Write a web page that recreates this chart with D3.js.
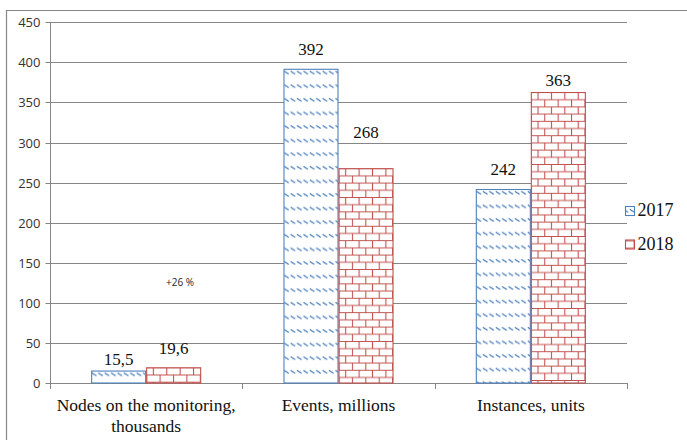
<!DOCTYPE html>
<html>
<head>
<meta charset="utf-8">
<script src="https://cdn.jsdelivr.net/npm/d3@7"></script>
<style>
  html, body { margin: 0; padding: 0; background: #fff; }
  svg { display: block; }
</style>
</head>
<body>
<script>
// Monitoring statistics, 2017 vs 2018
const categories = [["Nodes on the monitoring,", "thousands"], ["Events, millions"], ["Instances, units"]];
const seriesNames = ["2017", "2018"];
const values2017 = [15.5, 392, 242];
const values2018 = [19.6, 268, 363];
const yTicks = [0, 50, 100, 150, 200, 250, 300, 350, 400, 450];
const growthNote = "+26 %";

// extra lift (px) of each value label above its bar, per series
const labelLift = [[6, 13.5, 14], [13, 30, 6]];

const W = 687, H = 440;
const svg = d3.select("body").append("svg").attr("width", W).attr("height", H);

const blue = "#4F81BD", red = "#C0504D", grid = "#868686";
const serif = "'Liberation Serif', 'Times New Roman', serif";
const sans = "'Open Sans', 'Noto Sans', sans-serif";

const defs = svg.append("defs");

// dashed-diagonal fill (2017) and brick fill (2018); anchored at (ox, oy)
function makePattern(id, kind, ox, oy) {
  if (kind === 0) {
    const pw = 6.4, ph = 13.6;
    const p = defs.append("pattern").attr("id", id)
      .attr("patternUnits", "userSpaceOnUse").attr("width", pw).attr("height", ph)
      .attr("patternTransform", `translate(${ox},${oy})`);
    p.append("rect").attr("width", pw).attr("height", ph).attr("fill", "#fff");
    p.append("path").attr("d", "M0.8,2.2 L2.8,3.9 M3.0,3.6 L5.2,5.4")
      .attr("stroke", blue).attr("stroke-width", 1.3).attr("fill", "none");
  } else {
    const bw = 13.4, bh = 7.2;
    const p = defs.append("pattern").attr("id", id)
      .attr("patternUnits", "userSpaceOnUse").attr("width", bw).attr("height", bh * 2)
      .attr("patternTransform", `translate(${ox},${oy})`);
    p.append("rect").attr("width", bw).attr("height", bh * 2).attr("fill", "#fff");
    p.append("path")
      .attr("d", `M0,0.5 H${bw} M0,${bh + 0.5} H${bw} M${bw / 2 + 0.5},0 V${bh} M0.5,${bh} V${bh * 2}`)
      .attr("stroke", red).attr("stroke-width", 1.1).attr("fill", "none");
  }
}

// outer frame
svg.append("path").attr("d", `M6.5,${H} V10.5 H${W}`)
  .attr("stroke", grid).attr("stroke-width", 1.2).attr("fill", "none");

const x0 = d3.scaleBand().domain(d3.range(categories.length)).range([50, 627]).padding(0);
const x1 = d3.scaleBand().domain(seriesNames).range([0, x0.bandwidth()])
  .paddingInner(0).paddingOuter(0.748);
const y = d3.scaleLinear().domain([0, 450]).range([383, 22.3]);

// gridlines
svg.append("g").selectAll("line").data(yTicks).join("line")
  .attr("x1", 50).attr("x2", 627)
  .attr("y1", d => Math.round(y(d)) + 0.5).attr("y2", d => Math.round(y(d)) + 0.5)
  .attr("stroke", grid).attr("stroke-width", 1);

// y axis
const yAxis = svg.append("g").attr("transform", "translate(50.5,0)")
  .call(d3.axisLeft(y).tickValues(yTicks).tickSize(5).tickPadding(5).tickFormat(d3.format("d")));
yAxis.select(".domain").attr("stroke", grid).attr("d", `M0,${y(450)} V${y(0) + 0.5}`);
yAxis.selectAll(".tick line").attr("stroke", grid);
yAxis.selectAll(".tick text").attr("font-family", sans).attr("font-size", 13).attr("fill", "#333");
yAxis.selectAll(".tick").attr("transform", d => `translate(0,${Math.round(y(d)) + 0.5})`);

// category axis ticks
const catEdges = d3.range(categories.length + 1).map(i => 50 + i * x0.step());
svg.append("g").selectAll("line").data(catEdges).join("line")
  .attr("x1", d => Math.round(d) + 0.5).attr("x2", d => Math.round(d) + 0.5)
  .attr("y1", Math.round(y(0))).attr("y2", Math.round(y(0)) + 6)
  .attr("stroke", grid);

// bars
const series = [values2017, values2018];
const fmt = v => d3.format("~f")(v).replace(".", ",");
series.forEach((vals, s) => {
  const name = seriesNames[s];
  const g = svg.append("g");
  g.selectAll("rect").data(vals).join("rect")
    .each(function (d, i) {
      const bx = x0(i) + x1(name), by = y(d);
      makePattern(`pat${name}-${i}`, s, bx, by);
      d3.select(this)
        .attr("x", bx + 0.5).attr("y", by + 0.5)
        .attr("width", x1.bandwidth() - 1)
        .attr("height", y(0) - by - 0.5)
        .attr("fill", `url(#pat${name}-${i})`);
    })
    .attr("stroke", s === 0 ? blue : red)
    .attr("stroke-width", 1.1);
  g.selectAll("text").data(vals).join("text")
    .attr("x", (d, i) => x0(i) + x1(name) + x1.bandwidth() / 2)
    .attr("y", (d, i) => y(d) - labelLift[s][i])
    .attr("text-anchor", "middle")
    .attr("font-family", serif).attr("font-size", 17).attr("fill", "#111")
    .text(d => fmt(d));
});

// category labels
const catG = svg.append("g");
categories.forEach((lines, i) => {
  const cx = x0(i) + x0.bandwidth() / 2;
  const t = catG.append("text")
    .attr("x", cx).attr("y", 411)
    .attr("text-anchor", "middle")
    .attr("font-family", serif).attr("font-size", 17.5).attr("fill", "#111");
  lines.forEach((ln, k) => {
    t.append("tspan").attr("x", cx).attr("dy", k === 0 ? 0 : 21).text(ln);
  });
});

// growth annotation
svg.append("text").attr("x", 180).attr("y", 285.5).attr("text-anchor", "middle")
  .attr("font-family", sans).attr("font-size", 10).attr("fill", "#262626")
  .text(growthNote);

// legend
const leg = svg.append("g").selectAll("g").data(seriesNames).join("g")
  .attr("transform", (d, i) => `translate(625,${206 + i * 33.5})`);
leg.each(function (d, i) { makePattern(`leg${d}`, i, 625, 206 + i * 33.5 - 1); });
leg.append("rect").attr("x", 0.5).attr("y", 0.5).attr("width", 9).attr("height", 9)
  .attr("fill", d => `url(#leg${d})`)
  .attr("stroke", (d, i) => i === 0 ? blue : red).attr("stroke-width", 1.1);
leg.append("text").attr("x", 12.5).attr("y", 10)
  .attr("font-family", serif).attr("font-size", 18).attr("fill", "#111")
  .text(d => d);
</script>
</body>
</html>
